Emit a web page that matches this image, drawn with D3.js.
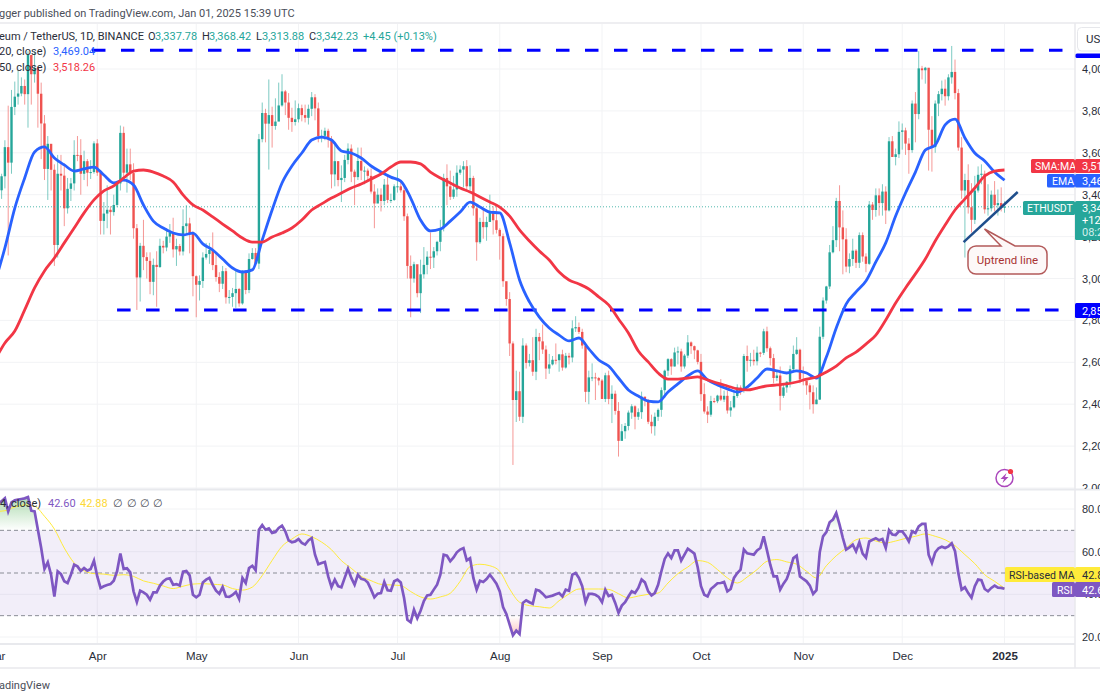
<!DOCTYPE html>
<html>
<head>
<meta charset="utf-8">
<script src="https://cdnjs.cloudflare.com/ajax/libs/d3/7.8.5/d3.min.js"></script>
<style>
body { margin: 0; background: #fff; overflow: hidden; }
svg { display: block; font-family: Roboto, "Open Sans", sans-serif; }
</style>
</head>
<body>
<div id="root"></div>
<script>
// ETH/USDT daily, 1 Mar 2024 to 1 Jan 2025
const firstDay = new Date(Date.UTC(2024, 2, 1));
const firstOpen = 3340;

const closes = [
	3433,3421,3488,3627,3553,3819,3868,3883,3919,3880,4067,3975,4005,3882,3740,3523,3643,3519,3160,3500,3491,3335,3428,3454,3590,3589,3500,3560,3505,3508,3645,
	3505,3275,3310,3328,3317,3351,3454,3695,3505,3545,3503,3240,3005,3156,3102,3084,2984,3065,3055,3156,3148,3200,3219,3139,3155,3129,3250,3263,3216,3011,
	2970,2988,3100,3117,3136,3064,3007,2975,3035,2910,2912,2930,2950,2881,3036,2945,3093,3122,3071,3665,3790,3739,3780,3728,3749,3826,3893,3840,3767,3747,3760,
	3813,3780,3767,3810,3865,3812,3679,3681,3705,3666,3497,3560,3470,3480,3566,3620,3510,3484,3561,3515,3515,3490,3415,3358,3400,3370,3448,3375,3375,3440,
	3440,3421,3297,3060,3000,3068,2930,3020,3065,3104,3100,3130,3175,3240,3480,3440,3390,3425,3505,3520,3536,3440,3480,3335,3173,3270,3245,3270,3317,3278,3232,
	3202,2987,2902,2690,2420,2462,2340,2680,2597,2610,2555,2721,2700,2661,2570,2590,2612,2610,2638,2575,2631,2623,2762,2768,2745,2680,2459,2528,2528,2525,2513,
	2425,2538,2425,2450,2368,2225,2271,2296,2360,2390,2340,2362,2436,2418,2316,2295,2340,2373,2467,2560,2615,2580,2647,2652,2580,2632,2695,2677,2657,2602,
	2448,2365,2350,2415,2414,2441,2422,2440,2370,2385,2439,2480,2465,2630,2607,2612,2605,2646,2645,2748,2667,2620,2525,2537,2440,2480,2507,2567,2640,2660,2518,
	2513,2490,2457,2400,2422,2722,2895,2962,3125,3183,3370,3244,3187,3057,3093,3133,3075,3207,3105,3070,3353,3327,3397,3360,3415,3325,3655,3580,3593,3700,
	3707,3644,3613,3835,3785,4003,3994,4006,3710,3627,3835,3880,3906,3870,3960,3986,3885,3625,3420,3470,3340,3280,3420,3495,3500,3330,3335,3400,3350,3360,3337.78,
	3342.23
];
const highs = [
	3450,3450,3500,3660,3825,3900,3940,3995,3960,3950,4085,4000,4085,4010,3935,3780,3680,3615,3545,3590,3590,3550,3480,3480,3660,3680,3665,3610,3570,3565,3655,
	3665,3510,3365,3445,3345,3400,3460,3730,3725,3620,3620,3550,3260,3170,3280,3125,3125,3095,3130,3190,3180,3240,3260,3290,3190,3165,3330,3350,3290,3225,
	3015,3015,3125,3170,3170,3220,3125,3030,3060,3050,2945,2955,3045,2955,3040,3040,3120,3145,3145,3690,3840,3810,3950,3820,3860,3935,3975,3900,3885,3815,3850,
	3835,3830,3830,3830,3890,3880,3840,3710,3720,3715,3680,3650,3560,3540,3590,3645,3640,3520,3625,3625,3535,3525,3525,3450,3430,3430,3475,3490,3405,3450,
	3520,3465,3435,3310,3110,3080,3010,3090,3150,3130,3220,3150,3180,3280,3500,3545,3515,3490,3540,3540,3560,3565,3540,3490,3350,3290,3330,3295,3400,3345,3350,
	3240,3215,2975,2935,2700,2560,2555,2715,2690,2640,2720,2760,2740,2780,2680,2640,2630,2690,2640,2660,2645,2645,2800,2820,2790,2760,2695,2560,2595,2550,2530,
	2520,2550,2560,2490,2465,2410,2305,2310,2370,2400,2395,2380,2460,2435,2425,2350,2360,2380,2480,2565,2620,2620,2670,2675,2665,2640,2730,2700,2680,2660,
	2640,2500,2390,2440,2430,2445,2520,2465,2465,2415,2465,2495,2490,2640,2680,2645,2660,2675,2650,2760,2770,2675,2640,2560,2580,2495,2510,2585,2680,2720,2665,
	2580,2510,2500,2490,2480,2770,2910,2965,3160,3250,3385,3445,3325,3240,3120,3190,3140,3220,3220,3120,3370,3365,3430,3430,3450,3440,3675,3680,3620,3750,
	3740,3720,3670,3850,3890,4085,4015,4010,4005,3775,3850,3895,3945,3950,3975,4110,4045,3905,3675,3500,3545,3455,3490,3535,3545,3515,3450,3420,3465,3425,3435,
	3368.42
];
const lows = [
	3330,3380,3380,3430,3110,3500,3780,3830,3870,3830,3720,3830,3935,3720,3570,3470,3375,3420,3060,3100,3420,3250,3310,3370,3420,3560,3400,3470,3440,3475,3500,
	3490,3210,3210,3240,3210,3300,3340,3420,3480,3410,3470,3190,2850,2890,3040,3000,2925,2920,2865,3050,3120,3130,3170,3100,3060,3110,3110,3210,3120,2915,
	2815,2895,2955,3090,3070,3040,2985,2935,2950,2880,2880,2865,2860,2865,2875,2925,2930,3090,3060,3045,3650,3650,3520,3625,3710,3780,3820,3780,3710,3700,3730,
	3745,3750,3745,3735,3775,3755,3650,3650,3660,3625,3430,3440,3440,3365,3460,3545,3460,3350,3470,3470,3450,3465,3405,3240,3360,3320,3350,3360,3360,3370,
	3410,3410,3275,3000,2815,2980,2910,2835,3000,3020,3045,3050,3110,3130,3225,3350,3375,3380,3390,3495,3435,3420,3420,3300,3085,3165,3190,3180,3270,3210,3215,
	3090,2960,2870,2630,2110,2315,2320,2310,2570,2580,2535,2515,2610,2640,2520,2545,2585,2590,2555,2560,2570,2590,2600,2745,2735,2665,2410,2400,2510,2420,2490,
	2425,2410,2400,2310,2350,2150,2230,2235,2275,2330,2280,2325,2330,2390,2305,2260,2250,2320,2340,2430,2535,2540,2580,2590,2555,2570,2620,2640,2615,2590,
	2415,2355,2310,2340,2405,2405,2415,2410,2355,2340,2380,2430,2445,2455,2555,2580,2585,2585,2625,2635,2650,2585,2500,2510,2370,2430,2455,2480,2555,2635,2500,
	2490,2445,2375,2355,2400,2420,2710,2880,2950,3120,3150,3130,3020,3030,3025,3060,3050,3050,3080,3030,3065,3280,3295,3300,3300,3260,3320,3580,3540,3575,
	3615,3590,3500,3600,3650,3760,3950,3930,3515,3510,3600,3775,3850,3825,3850,3930,3855,3610,3380,3100,3310,3220,3260,3410,3450,3310,3300,3320,3320,3300,3320,
	3313.88
];

// moving averages, one reading every maStep days
const maStep = 3;
const ema20 = [
	2983,3146,3336,3480,3604,3628,3575,3542,3513,3523,3532,3494,3456,3470,3446,3351,3274,3241,3217,3208,3217,3165,3136,3093,3050,3031,3041,3184,3327,3456,
	3537,3599,3661,3675,3661,3609,3599,3575,3537,3508,3484,3465,3384,3279,3227,3236,3274,3317,3365,3341,3317,3313,3170,2993,2888,2816,2764,2730,2702,2716,
	2664,2611,2582,2525,2468,2439,2415,2411,2458,2497,2535,2559,2516,2492,2473,2458,2482,2525,2568,2559,2549,2559,2549,2525,2625,2764,2878,2936,2988,3079,
	3170,3298,3408,3508,3613,3637,3733,3761,3671,3599,3561,3508,3469
];
const sma50 = [
	2611,2692,2749,2850,2955,3036,3098,3170,3241,3313,3375,3418,3442,3480,3513,3518,3508,3489,3461,3399,3351,3327,3294,3260,3227,3193,3174,3174,3198,3217,
	3241,3279,3327,3356,3384,3408,3432,3451,3475,3499,3532,3556,3556,3547,3508,3480,3456,3432,3413,3389,3365,3341,3298,3232,3179,3131,3088,3031,2993,2974,
	2950,2912,2874,2807,2740,2654,2602,2549,2520,2520,2525,2530,2516,2501,2487,2473,2468,2477,2487,2492,2497,2506,2520,2530,2554,2582,2621,2649,2687,2730,
	2802,2883,2955,3022,3093,3179,3255,3327,3380,3432,3489,3513,3518
];

// RSI 14, one reading per day
const rsi = [
	82.5,82.8,83.6,85.0,78.9,83.1,84.1,84.4,84.7,85.0,85.6,79.2,78.9,70.3,61.7,51.9,55.0,49.2,39.0,50.8,49.5,46.1,45.3,49.2,53.9,53.1,50.9,52.3,51.1,51.9,55.8,
	48.4,43.0,43.8,44.4,44.8,46.4,50.8,59.1,51.9,52.2,50.3,41.4,36.4,41.7,40.9,39.8,37.5,40.9,40.9,44.1,46.0,47.2,47.5,44.5,44.8,44.1,50.6,50.9,48.9,39.8,
	38.6,39.8,45.6,46.9,47.7,44.4,41.7,40.3,43.4,39.0,38.8,39.7,41.1,37.8,47.7,45.3,52.3,53.4,51.3,70.3,72.5,70.3,70.9,68.8,69.2,71.1,72.2,69.5,65.3,64.4,64.8,
	65.9,64.1,63.3,65.3,66.4,58.6,54.1,54.7,55.2,48.4,43.4,46.9,43.8,43.3,47.7,52.0,47.7,44.5,49.2,47.3,46.9,45.5,42.2,38.6,40.3,40.6,45.8,41.9,41.7,46.1,
	46.9,45.6,38.3,28.1,26.9,32.8,28.8,32.3,36.9,39.5,39.8,42.2,44.5,49.2,58.6,58.1,55.5,57.3,59.7,61.0,61.7,55.9,56.9,47.7,42.2,46.4,45.8,47.2,49.2,47.2,45.0,
	41.4,34.0,30.8,25.8,20.8,23.0,21.4,36.0,37.2,36.3,35.6,42.2,41.7,40.3,38.6,39.0,39.4,40.0,40.6,39.0,42.2,41.7,49.2,50.0,47.7,43.8,36.3,40.2,40.2,39.8,38.8,
	36.3,42.2,39.2,39.8,36.0,31.3,34.7,36.3,39.0,41.4,40.6,43.0,46.9,45.6,41.4,39.5,40.6,44.5,50.8,56.6,59.2,57.0,60.6,60.6,55.8,58.6,61.4,60.3,59.1,52.7,
	43.8,39.8,39.0,42.5,43.8,45.2,45.3,45.8,41.4,42.5,47.7,50.0,51.6,61.0,59.2,58.9,58.6,60.6,61.7,67.2,60.6,53.9,48.4,48.4,42.2,45.0,47.2,51.6,57.0,58.1,48.4,
	47.2,46.1,44.1,40.2,41.9,59.7,67.2,69.2,73.8,75.0,78.1,72.7,66.4,61.0,62.0,63.3,60.2,64.4,59.1,57.2,64.8,65.6,66.3,65.3,65.9,61.7,70.0,68.0,67.8,69.5,
	69.5,67.5,64.8,69.5,68.8,71.9,73.0,73.0,58.6,54.7,59.7,61.6,62.3,61.7,62.5,63.9,60.2,50.0,42.2,43.3,40.6,38.4,43.8,46.9,46.6,42.5,41.4,43.0,44.1,43.1,43.0,
	42.6
];
const rsiMa = [
	78.8,79.2,80.9,81.9,81.3,76.6,70.6,61.7,54.7,51.1,49.7,49.5,48.9,49.2,48.4,46.3,45.2,43.9,42.7,43.8,44.8,45.0,44.7,44.4,42.7,42.0,43.4,48.8,55.9,62.5,
	65.9,68.3,67.0,64.5,60.9,55.8,52.2,48.4,46.4,44.7,44.4,44.1,41.3,38.8,37.8,38.8,40.5,46.1,53.0,54.1,53.4,50.8,42.5,36.3,34.7,34.2,33.6,37.0,40.2,42.5,
	42.5,42.5,42.3,40.3,38.3,39.2,40.0,40.6,45.3,49.7,52.8,55.8,55.0,51.6,47.7,45.3,48.1,51.6,55.5,56.3,55.2,54.1,50.8,47.7,53.4,58.1,61.7,65.6,66.4,65.0,
	64.1,65.0,66.2,67.2,68.3,67.2,65.6,62.8,58.6,54.4,49.2,46.1,42.88
];

const priceTicks = [4000,3800,3600,3400,3200,3000,2800,2600,2400,2200,2000];
const rsiTicks = [80,60,40,20];
const rsiLevels = [70,50,30];
const monthTicks = ["2024-03-01","2024-04-01","2024-05-01","2024-06-01","2024-07-01","2024-08-01","2024-09-01","2024-10-01","2024-11-01","2024-12-01","2025-01-01"];
const monthNames = ["Mar","Apr","May","Jun","Jul","Aug","Sep","Oct","Nov","Dec","2025"];

// support / resistance levels and the trend line: [price, first day, last day]
const levels = [[4090,29.4,323.6],[2850,37,327]];
const trendLine = [[293.6,3174],[310,3413]];

const green = "#26a69a", red = "#ef5350";
const emaColor = "#2962ff", smaColor = "#f23645", rsiColor = "#7e57c2", maColor = "#ffeb3b", levelColor = "#0000ff";

const width = 1100;
const height = 700;
const axisX = 1075;
const paneTop = 24, paneBottom = 489, rsiBottom = 644, axisBottom = 668;

var svg;
const xScale = d3.scaleUtc()
.domain([firstDay, new Date(Date.UTC(2025, 0, 1))])
.range([-5, 1004.5]);
const yPrice = d3.scaleLinear().domain([2000, 4000]).range([488, 69]);
const yRsi = d3.scaleLinear().domain([20, 80]).range([637, 509]);

function dayX(i){
	return xScale(new Date(+firstDay + i * 864e5));
}

main();

function main(){
	svg = d3.select("#root")
	.append("svg")
	.attr("width", width)
	.attr("height", height);

	const defs = svg.append("defs");
	defs.append("clipPath").attr("id", "pricePane").append("rect")
		.attr("x", 0).attr("y", paneTop).attr("width", axisX).attr("height", paneBottom - paneTop);
	defs.append("clipPath").attr("id", "priceAxis").append("rect")
		.attr("x", axisX).attr("y", paneTop).attr("width", 30).attr("height", paneBottom - paneTop);
	const above = defs.append("linearGradient").attr("id", "overbought").attr("x1", 0).attr("x2", 0).attr("y1", 0).attr("y2", 1);
	above.append("stop").attr("offset", 0).attr("stop-color", "#4caf50").attr("stop-opacity", 0.45);
	above.append("stop").attr("offset", 1).attr("stop-color", "#4caf50").attr("stop-opacity", 0);
	const below = defs.append("linearGradient").attr("id", "oversold").attr("x1", 0).attr("x2", 0).attr("y1", 0).attr("y2", 1);
	below.append("stop").attr("offset", 0).attr("stop-color", "#f44336").attr("stop-opacity", 0);
	below.append("stop").attr("offset", 1).attr("stop-color", "#f44336").attr("stop-opacity", 0.3);

	makeGrid();
	makeRsiPane();
	makeCandles();
	makeLevels();
	makeAverages();
	makeCallout();
	makeFrame();
	makeAxes();
	makeAxisTags();
	makeLegend();
}

function makeGrid(){
	const g = svg.append("g").attr("stroke", "#f2f3f5").attr("stroke-width", 1);
	g.selectAll("line.h").data(priceTicks).join("line")
		.attr("x1", 0).attr("x2", axisX)
		.attr("y1", d => yPrice(d)).attr("y2", d => yPrice(d));
	g.selectAll("line.r").data(rsiTicks).join("line")
		.attr("x1", 0).attr("x2", axisX)
		.attr("y1", d => yRsi(d)).attr("y2", d => yRsi(d));
	g.selectAll("line.v").data(monthTicks).join("line")
		.attr("x1", d => xScale(new Date(d))).attr("x2", d => xScale(new Date(d)))
		.attr("y1", paneTop).attr("y2", rsiBottom);
}

function makeCandles(){
	const candles = closes.map((c, i) => ({
		i: i,
		open: i ? closes[i - 1] : firstOpen, // crypto days open on the previous close
		high: highs[i],
		low: lows[i],
		close: c
	}));
	const g = svg.append("g").attr("clip-path", "url(#pricePane)");
	const colorOf = d => d.close >= d.open ? green : red;

	g.selectAll("line.wick").data(candles).join("line")
		.attr("x1", d => dayX(d.i)).attr("x2", d => dayX(d.i))
		.attr("y1", d => yPrice(d.high)).attr("y2", d => yPrice(d.low))
		.attr("stroke", colorOf)
		.attr("stroke-opacity", 0.6)
		.attr("stroke-width", 1);

	g.selectAll("rect.body").data(candles).join("rect")
		.attr("x", d => dayX(d.i) - 1.2)
		.attr("width", 2.4)
		.attr("y", d => yPrice(Math.max(d.open, d.close)))
		.attr("height", d => Math.max(1, Math.abs(yPrice(d.open) - yPrice(d.close))))
		.attr("fill", colorOf);

	// last price line
	g.append("line")
		.attr("x1", 0).attr("x2", axisX)
		.attr("y1", yPrice(closes[closes.length - 1])).attr("y2", yPrice(closes[closes.length - 1]))
		.attr("stroke", green).attr("stroke-width", 1).attr("stroke-dasharray", "1,2").attr("stroke-opacity", 0.8);
}

function makeLevels(){
	svg.append("g").selectAll("line").data(levels).join("line")
		.attr("x1", d => dayX(d[1])).attr("x2", d => dayX(d[2]))
		.attr("y1", d => yPrice(d[0])).attr("y2", d => yPrice(d[0]))
		.attr("stroke", levelColor)
		.attr("stroke-width", 3)
		.attr("stroke-dasharray", "13.5,15.5");
}

function makeAverages(){
	const line = d3.line()
		.x((d, i) => dayX(i * maStep))
		.y(d => yPrice(d))
		.curve(d3.curveMonotoneX);
	const g = svg.append("g").attr("clip-path", "url(#pricePane)").attr("fill", "none").attr("stroke-width", 2.8);
	g.append("path").attr("d", line(ema20)).attr("stroke", emaColor);
	g.append("path").attr("d", line(sma50)).attr("stroke", smaColor);
}

function makeCallout(){
	// trend line
	svg.append("line")
		.attr("x1", dayX(trendLine[0][0])).attr("y1", yPrice(trendLine[0][1]))
		.attr("x2", dayX(trendLine[1][0])).attr("y2", yPrice(trendLine[1][1]))
		.attr("stroke", "#1f4e8c").attr("stroke-width", 2.5);

	// speech bubble with its tip on the line
	const x0 = 968, x1 = 1047, y0 = 246, y1 = 274, r = 8;
	const p = d3.path();
	p.moveTo(x0 + r, y0);
	p.lineTo(1001, y0);
	p.lineTo(984.5, 229);
	p.lineTo(1015, y0);
	p.arcTo(x1, y0, x1, y0 + r, r);
	p.arcTo(x1, y1, x1 - r, y1, r);
	p.arcTo(x0, y1, x0, y1 - r, r);
	p.arcTo(x0, y0, x0 + r, y0, r);
	p.closePath();
	svg.append("path").attr("d", p.toString())
		.attr("fill", "#fdf8f8").attr("stroke", "#b35a5a").attr("stroke-width", 1.5);
	svg.append("text").attr("x", 1007.5).attr("y", 264).attr("text-anchor", "middle")
		.attr("font-size", 11.5).attr("fill", "#a83232").text("Uptrend line");

	// replay / bolt badge
	const badge = svg.append("g").attr("transform", "translate(1004.5,478)");
	badge.append("circle").attr("r", 8.5).attr("fill", "#fff").attr("stroke", "#ab47bc").attr("stroke-width", 1.5);
	badge.append("path").attr("d", "M2,-5L-4,1L-0.5,1L-2,5L4,-1L0.5,-1Z").attr("fill", "#ab47bc");
	badge.append("circle").attr("cx", 6).attr("cy", -6.5).attr("r", 2.6).attr("fill", "#f23645");
}

function makeRsiPane(){
	const g = svg.append("g");
	g.append("rect")
		.attr("x", 0).attr("width", axisX)
		.attr("y", yRsi(70)).attr("height", yRsi(30) - yRsi(70))
		.attr("fill", rsiColor).attr("fill-opacity", 0.1);

	g.append("path")
		.attr("d", d3.area().x((d, i) => dayX(i)).y0(yRsi(70)).y1(d => yRsi(Math.max(d, 70)))(rsi))
		.attr("fill", "url(#overbought)");
	g.append("path")
		.attr("d", d3.area().x((d, i) => dayX(i)).y0(yRsi(30)).y1(d => yRsi(Math.min(d, 30)))(rsi))
		.attr("fill", "url(#oversold)");

	g.selectAll("line.level").data(rsiLevels).join("line")
		.attr("x1", 0).attr("x2", axisX)
		.attr("y1", d => yRsi(d)).attr("y2", d => yRsi(d))
		.attr("stroke", "#8a8d96").attr("stroke-width", 1).attr("stroke-dasharray", "4,3");

	g.append("path")
		.attr("d", d3.line().x((d, i) => dayX(i * maStep)).y(d => yRsi(d)).curve(d3.curveMonotoneX)(rsiMa))
		.attr("fill", "none").attr("stroke", maColor).attr("stroke-width", 1);
	g.append("path")
		.attr("d", d3.line().x((d, i) => dayX(i)).y(d => yRsi(d))(rsi))
		.attr("fill", "none").attr("stroke", rsiColor).attr("stroke-width", 2.7);
}

function makeFrame(){
	const g = svg.append("g").attr("stroke", "#e8e9ed");
	g.append("line").attr("x1", 0).attr("x2", width).attr("y1", 23).attr("y2", 23).attr("stroke-width", 1.5);
	g.append("line").attr("x1", 0).attr("x2", width).attr("y1", paneBottom + 0.5).attr("y2", paneBottom + 0.5).attr("stroke-width", 2);
	g.append("line").attr("x1", 0).attr("x2", axisX).attr("y1", rsiBottom).attr("y2", rsiBottom).attr("stroke-width", 2);
	g.append("line").attr("x1", 0).attr("x2", width).attr("y1", axisBottom).attr("y2", axisBottom).attr("stroke-width", 1.5);
	g.append("line").attr("x1", axisX).attr("x2", axisX).attr("y1", 23).attr("y2", axisBottom).attr("stroke-width", 1.5);
}

function styleAxis(g, size){
	g.select(".domain").remove();
	g.selectAll(".tick line").remove();
	g.selectAll("text").attr("fill", "#2a2e39").attr("font-size", size);
}

function makeAxes(){
	const xAxis = d3.axisBottom(xScale)
		.tickValues(monthTicks.map(d => new Date(d)))
		.tickFormat((d, i) => monthNames[i])
		.tickSize(0).tickPadding(0);
	const gx = svg.append("g").attr("transform", "translate(0," + (rsiBottom + 8) + ")").call(xAxis);
	styleAxis(gx, 11.5);
	gx.selectAll("text").filter((d, i) => i == 10).attr("font-weight", "bold");

	const priceAxis = d3.axisRight(yPrice)
		.tickValues(priceTicks)
		.tickFormat(d3.format(",.2f"))
		.tickSize(0).tickPadding(0);
	const gy = svg.append("g").attr("clip-path", "url(#priceAxis)")
		.append("g").attr("transform", "translate(1082,0)").call(priceAxis);
	styleAxis(gy, 11);

	const rsiAxis = d3.axisRight(yRsi)
		.tickValues(rsiTicks)
		.tickFormat(d3.format(".2f"))
		.tickSize(0).tickPadding(0);
	const gr = svg.append("g").attr("transform", "translate(1082,0)").call(rsiAxis);
	styleAxis(gr, 11);
}

function tag(x, y, w, h, fill, text, color, size, pad){
	svg.append("rect").attr("x", x).attr("y", y).attr("width", w).attr("height", h).attr("fill", fill).attr("rx", 1.5);
	if (text) {
		svg.append("text").attr("x", x + (pad || 7)).attr("y", y + h / 2 + 4)
			.attr("font-size", size || 11).attr("fill", color).text(text);
	}
}

function makeAxisTags(){
	// USD button and the top level, mostly hidden behind it
	tag(axisX + 0.5, 53.5, 30, 4.5, levelColor);
	svg.append("rect").attr("x", 1077.5).attr("y", 27.5).attr("width", 40).attr("height", 23.5).attr("rx", 4)
		.attr("fill", "#fff").attr("stroke", "#e6e7eb");
	svg.append("text").attr("x", 1086).attr("y", 43).attr("font-size", 11.5).attr("fill", "#2a2e39").text("USD");

	tag(1031, 159, 44, 14, smaColor, "SMA:MA", "#fff", 10.5, 4);
	tag(axisX, 159, 30, 14, smaColor, "3,518.26", "#fff");
	tag(1047, 174, 28, 13.5, emaColor, "EMA", "#fff", 10.5, 5);
	tag(axisX, 174, 30, 13.5, emaColor, "3,469.04", "#fff");

	tag(1023, 201, 52, 14, green, "ETHUSDT", "#fff", 10.5, 4);
	tag(axisX, 201, 30, 39, green);
	svg.append("text").attr("x", 1082).attr("y", 212).attr("font-size", 11).attr("fill", "#fff").text("3,342.23");
	svg.append("text").attr("x", 1082).attr("y", 224).attr("font-size", 11).attr("fill", "#fff").text("+12.45");
	svg.append("text").attr("x", 1082).attr("y", 236).attr("font-size", 11).attr("fill", "#d4efec").text("08:20:21");

	tag(axisX, 303, 30, 15, levelColor, "2,850.00", "#fff");

	tag(1005, 567, 70, 15, maColor, "RSI-based MA", "#2a2e39", 10.5, 4);
	tag(axisX, 567, 30, 15, maColor, "42.88", "#2a2e39");
	tag(1052, 582, 23, 15, rsiColor, "RSI", "#fff", 10.5, 5);
	tag(axisX, 582, 30, 15, rsiColor, "42.60", "#fff");
}

function legendText(g, x, y, text, color){
	g.append("text").attr("x", x).attr("y", y).attr("fill", color).text(text);
}

function makeLegend(){
	const g = svg.append("g").attr("font-size", 11);
	const ink = "#2a2e39";
	legendText(g, -1, 17, "gger published on TradingView.com, Jan 01, 2025 15:39 UTC", "#4a4e59");

	legendText(g, -1, 40, "eum / TetherUS, 1D, BINANCE", ink);
	legendText(g, 148, 40, "O", ink);
	legendText(g, 155, 40, "3,337.78", green);
	legendText(g, 202, 40, "H", ink);
	legendText(g, 209, 40, "3,368.42", green);
	legendText(g, 256, 40, "L", ink);
	legendText(g, 262, 40, "3,313.88", green);
	legendText(g, 309, 40, "C", ink);
	legendText(g, 316, 40, "3,342.23", green);
	legendText(g, 363, 40, "+4.45 (+0.13%)", green);

	legendText(g, -1, 55, "20, close)", ink);
	legendText(g, 53, 55, "3,469.04", emaColor);
	legendText(g, -1, 71, "50, close)", ink);
	legendText(g, 53, 71, "3,518.26", smaColor);

	legendText(g, 0, 507, "4, close)", ink);
	legendText(g, 48, 507, "42.60", rsiColor);
	legendText(g, 80, 507, "42.88", "#fdd835");
	[113, 127, 140, 153].forEach(x => legendText(g, x, 507, "∅", "#4a4e59"));

	legendText(g, -1, 689, "adingView", "#4a4e59");
}
</script>
</body>
</html>
